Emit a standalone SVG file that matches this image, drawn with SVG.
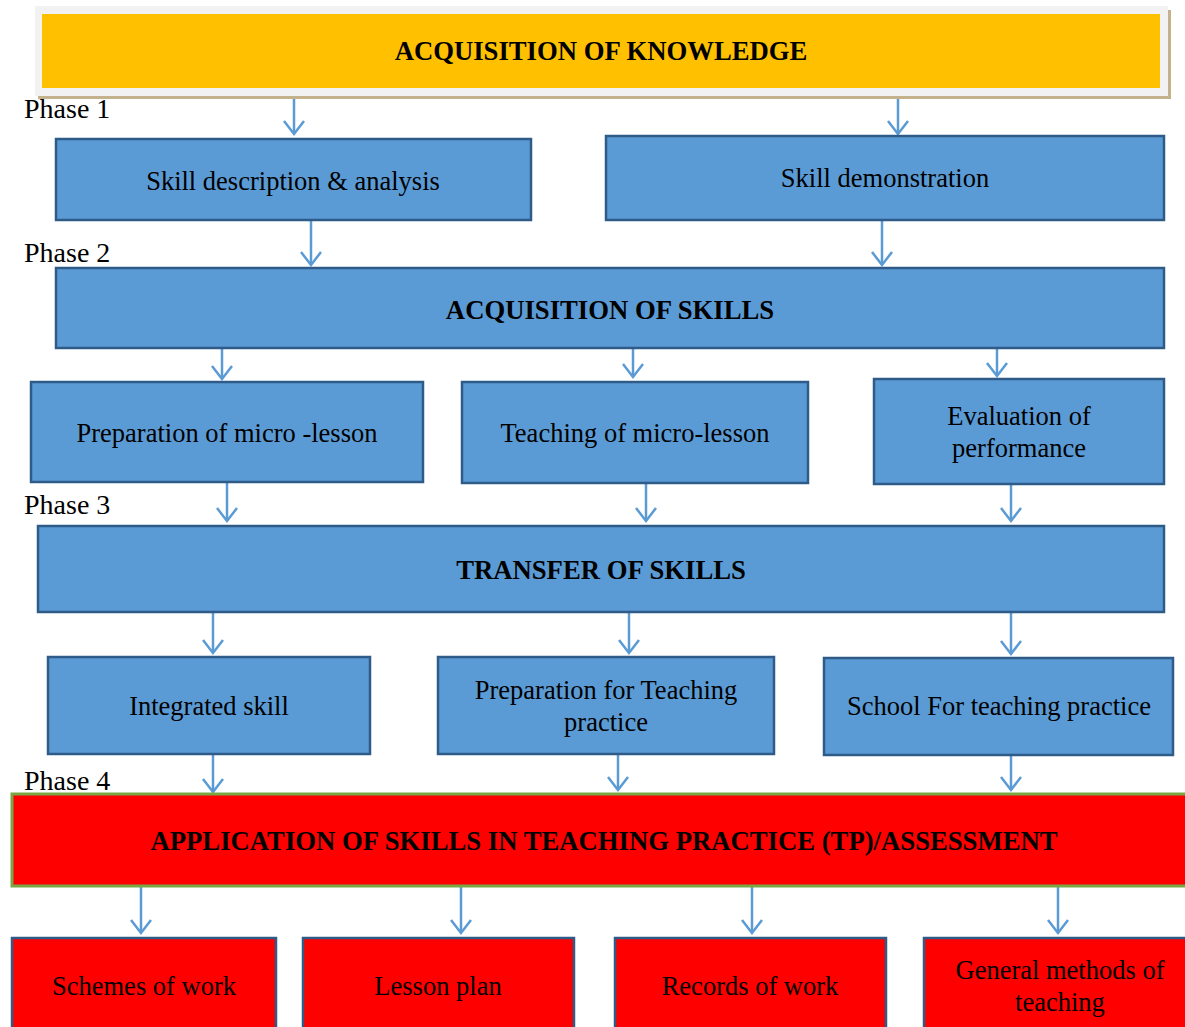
<svg xmlns="http://www.w3.org/2000/svg" width="1185" height="1027" viewBox="0 0 1185 1027">
  <style>
    .blue { fill: #5b9bd5; stroke: #2e5b88; stroke-width: 2.5; }
    .redbox { fill: #ff0000; stroke: #2e5b88; stroke-width: 2.5; }
    .txt { font-family: "Liberation Serif", "Times New Roman", serif; font-size: 26.5px; fill: #000; text-anchor: middle; }
    .hd { font-family: "Liberation Serif", "Times New Roman", serif; font-size: 26.7px; font-weight: bold; fill: #000; text-anchor: middle; }
    .phase { font-family: "Liberation Serif", "Times New Roman", serif; font-size: 28px; fill: #000; }
    .conn path { stroke: #5b9bd5; stroke-width: 2.5; fill: none; marker-end: url(#v); }
  </style>
  <defs>
    <marker id="v" markerWidth="16" markerHeight="24" refX="14" refY="10" orient="auto" markerUnits="userSpaceOnUse" overflow="visible">
      <path d="M1,0 L14,10 L1,20" fill="none" stroke="#5b9bd5" stroke-width="2.5"/>
    </marker>
  </defs>
  <rect width="1185" height="1027" fill="#fff"/>

  <!-- Phase labels -->
  <text class="phase" x="24" y="118">Phase 1</text>
  <text class="phase" x="24" y="262">Phase 2</text>
  <text class="phase" x="24" y="514">Phase 3</text>
  <text class="phase" x="24" y="790">Phase 4</text>

  <!-- Connectors -->
  <g id="connectors" class="conn">
    <path d="M294,93 V134"/>
    <path d="M898,93 V134"/>
    <path d="M311,220 V265"/>
    <path d="M882,220 V265"/>
    <path d="M222,348 V379"/>
    <path d="M633,348 V377"/>
    <path d="M997,348 V376"/>
    <path d="M227,483 V521"/>
    <path d="M646,483 V521"/>
    <path d="M1011,484 V521"/>
    <path d="M213,612 V653"/>
    <path d="M629,612 V653"/>
    <path d="M1011,612 V654"/>
    <path d="M213,754 V792"/>
    <path d="M618,754 V790"/>
    <path d="M1011,755 V790"/>
    <path d="M141,883 V933"/>
    <path d="M461,883 V933"/>
    <path d="M752,883 V933"/>
    <path d="M1058,883 V933"/>
  </g>

  <!-- Top heading with its frame and shadow -->
  <g id="acquisition-of-knowledge">
    <rect x="38" y="10" width="1133" height="89" fill="#c4b28c"/>
    <rect x="35" y="6" width="1133" height="90" fill="#f2f2f2"/>
    <rect x="42" y="14" width="1118" height="74" fill="#ffc000"/>
    <text class="hd" x="601" y="60">ACQUISITION OF KNOWLEDGE</text>
  </g>

  <g id="skill-description">
    <rect class="blue" x="56" y="139" width="475" height="81"/>
    <text class="txt" x="293" y="190">Skill description &amp; analysis</text>
  </g>
  <g id="skill-demonstration">
    <rect class="blue" x="606" y="136" width="558" height="84"/>
    <text class="txt" x="885" y="187">Skill demonstration</text>
  </g>

  <g id="acquisition-of-skills">
    <rect class="blue" x="56" y="268" width="1108" height="80"/>
    <text class="hd" x="610" y="319">ACQUISITION OF SKILLS</text>
  </g>

  <g id="preparation-micro-lesson">
    <rect class="blue" x="31" y="382" width="392" height="100"/>
    <text class="txt" x="227" y="442">Preparation of micro -lesson</text>
  </g>
  <g id="teaching-micro-lesson">
    <rect class="blue" x="462" y="382" width="346" height="101"/>
    <text class="txt" x="635" y="442">Teaching of micro-lesson</text>
  </g>
  <g id="evaluation-performance">
    <rect class="blue" x="874" y="379" width="290" height="105"/>
    <text class="txt" x="1019" y="425">Evaluation of</text>
    <text class="txt" x="1019" y="457">performance</text>
  </g>

  <g id="transfer-of-skills">
    <rect class="blue" x="38" y="526" width="1126" height="86"/>
    <text class="hd" x="601" y="579">TRANSFER OF SKILLS</text>
  </g>

  <g id="integrated-skill">
    <rect class="blue" x="48" y="657" width="322" height="97"/>
    <text class="txt" x="209" y="715">Integrated skill</text>
  </g>
  <g id="preparation-teaching-practice">
    <rect class="blue" x="438" y="657" width="336" height="97"/>
    <text class="txt" x="606" y="699">Preparation for Teaching</text>
    <text class="txt" x="606" y="731">practice</text>
  </g>
  <g id="school-teaching-practice">
    <rect class="blue" x="824" y="658" width="349" height="97"/>
    <text class="txt" x="999" y="715">School For teaching practice</text>
  </g>

  <g id="application-of-skills">
    <rect x="12" y="794" width="1185" height="92" fill="#ff0000" stroke="#77a844" stroke-width="3"/>
    <text class="hd" x="604" y="850">APPLICATION OF SKILLS IN TEACHING PRACTICE (TP)/ASSESSMENT</text>
  </g>

  <g id="schemes-of-work">
    <rect class="redbox" x="12" y="938" width="264" height="100"/>
    <text class="txt" x="144" y="995">Schemes of work</text>
  </g>
  <g id="lesson-plan">
    <rect class="redbox" x="303" y="938" width="271" height="100"/>
    <text class="txt" x="438" y="995">Lesson plan</text>
  </g>
  <g id="records-of-work">
    <rect class="redbox" x="615" y="938" width="271" height="100"/>
    <text class="txt" x="750" y="995">Records of work</text>
  </g>
  <g id="general-methods">
    <rect class="redbox" x="924" y="938" width="275" height="100"/>
    <text class="txt" x="1060" y="979">General methods of</text>
    <text class="txt" x="1060" y="1011">teaching</text>
  </g>
</svg>
